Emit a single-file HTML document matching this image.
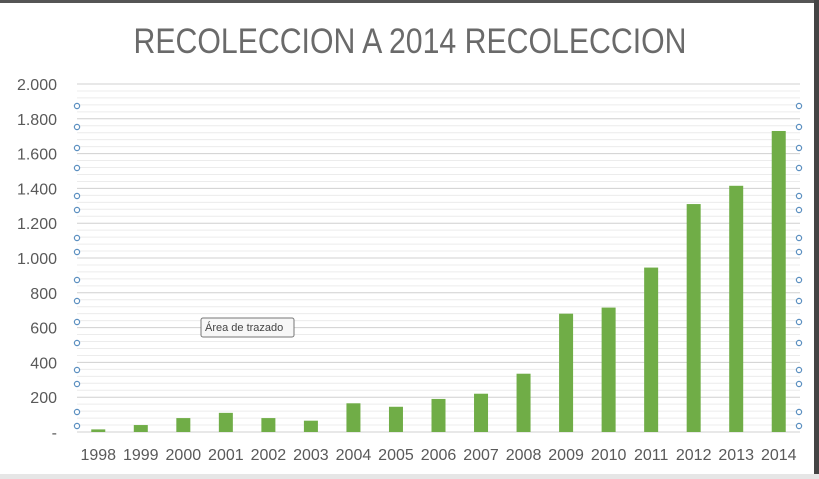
<!DOCTYPE html>
<html><head><meta charset="utf-8"><style>
html,body{margin:0;padding:0;background:#fff}
svg{display:block}
</style></head><body>
<svg width="819" height="479" viewBox="0 0 819 479" xmlns="http://www.w3.org/2000/svg">
<rect x="0" y="0" width="819" height="479" fill="#fff"/>
<rect x="0" y="0" width="819" height="3" fill="#555"/>
<rect x="814" y="0" width="5" height="479" fill="#444"/>
<rect x="0" y="474" width="819" height="5" fill="#e6e6e6"/>
<text x="410" y="53" text-anchor="middle" font-family="Liberation Sans, sans-serif" font-size="35" fill="#6a6a6a" textLength="553" lengthAdjust="spacingAndGlyphs">RECOLECCION A 2014 RECOLECCION</text>
<g id="grid"></g>
<g id="yticks"></g>
<g id="bars"></g>
<g id="xticks"></g>
<g id="handles"></g>
<g>
<rect x="201" y="318" width="93" height="19" rx="2" fill="#f7f7f7" stroke="#777"/>
<text x="205" y="331" font-family="Liberation Sans, sans-serif" font-size="11" fill="#444">Área de trazado</text>
</g>
</svg>
<script>
const categories=["1998","1999","2000","2001","2002","2003","2004","2005","2006","2007","2008","2009","2010","2011","2012","2013","2014"];
const values=[15,40,80,110,80,65,165,145,190,220,335,680,715,945,1310,1415,1730];
const yTicks=[0,200,400,600,800,1000,1200,1400,1600,1800,2000];
const yTickLabels=["-","200","400","600","800","1.000","1.200","1.400","1.600","1.800","2.000"];
const NS="http://www.w3.org/2000/svg";
const x0=77,x1=800,yBase=432,yTop=84,yMax=2000;
const y=v=>yBase-(v/yMax)*(yBase-yTop);
const band=(x1-x0)/categories.length;
const xc=i=>x0+band*(i+0.5);
function mk(tag,attrs,parent){const e=document.createElementNS(NS,tag);for(const k in attrs)e.setAttribute(k,attrs[k]);parent.appendChild(e);return e;}
const grid=document.getElementById('grid');
for(let v=0;v<=yMax;v+=40){
  const major=v%200===0;
  const l=mk('line',{x1:x0,x2:x1,y1:y(v),y2:y(v),stroke:major?'#d0d0d0':'#ececec','stroke-width':1},grid);
  
  
}
const yt=document.getElementById('yticks');
yTicks.forEach((v,i)=>{
  const t=mk('text',{x:57,y:y(v)+6,'text-anchor':'end','font-family':'Liberation Sans, sans-serif','font-size':16,fill:'#595959'},yt);
  t.textContent=yTickLabels[i];
  
  
});
const bars=document.getElementById('bars');
const xt=document.getElementById('xticks');
categories.forEach((c,i)=>{
  const r=mk('rect',{x:xc(i)-7,y:y(values[i]),width:14,height:yBase-y(values[i]),fill:'#70ad47'},bars);
  
  
  const t=mk('text',{x:xc(i),y:460,'text-anchor':'middle','font-family':'Liberation Sans, sans-serif','font-size':16,fill:'#595959'},xt);
  t.textContent=c;
  
  
});
const hy=[106,127,148,168,196,210,238,252,280,301,322,343,370,384,412,426];
const hg=document.getElementById('handles');
[77,799].forEach(hx=>hy.forEach(yy=>{
  const c=mk('circle',{cx:hx,cy:yy,r:2.6,fill:'#fff',stroke:'#5b8fc0','stroke-width':1.2},hg);
  
  
}));
</script>
</body></html>
